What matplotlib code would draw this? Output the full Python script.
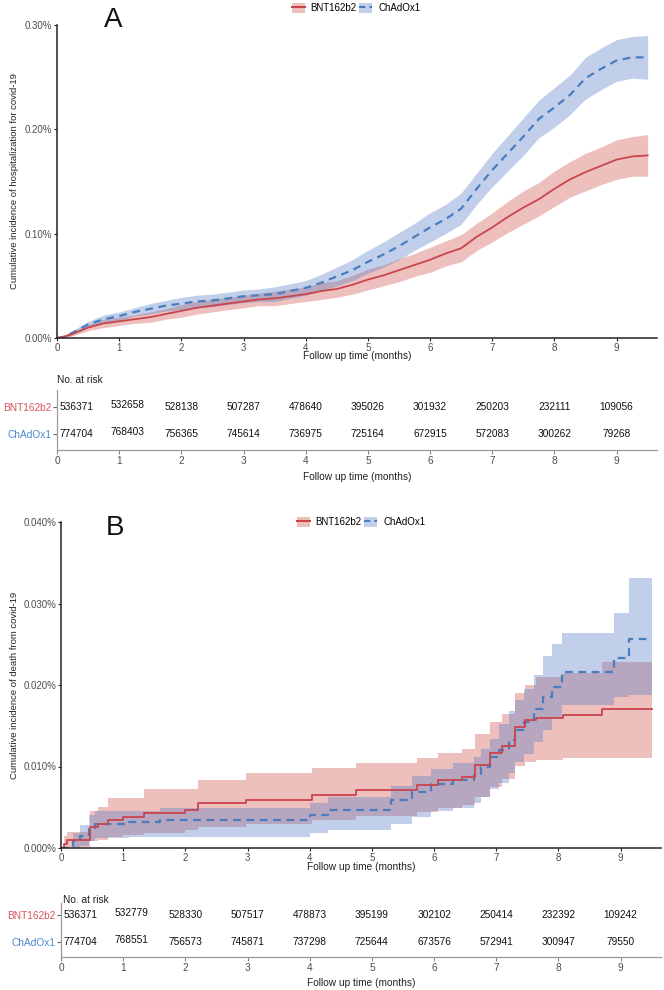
import matplotlib
matplotlib.use("Agg")
import matplotlib.pyplot as plt
from matplotlib.patches import Patch
from matplotlib.lines import Line2D
from matplotlib.ticker import FuncFormatter

plt.rcParams['font.family'] = ['Liberation Sans', 'DejaVu Sans']

# ---------------- DATA ----------------
groups = ["BNT162b2", "ChAdOx1"]
months_ticks = [0, 1, 2, 3, 4, 5, 6, 7, 8, 9]

# Panel A: cumulative incidence of hospitalisation (%)
tA = [0, 0.1, 0.25, 0.5, 0.75, 1.0, 1.25, 1.5, 1.75, 2.0, 2.25, 2.5, 2.75, 3.0, 3.25, 3.5, 3.75,
      4.0, 4.25, 4.5, 4.75, 5.0, 5.25, 5.5, 5.75, 6.0, 6.25, 6.5, 6.75, 7.0, 7.25, 7.5, 7.75,
      8.0, 8.25, 8.5, 8.75, 9.0, 9.25, 9.5]
bntA = [0, .001, .004, .010, .014, .016, .018, .020, .023, .026, .029, .031, .033, .035, .037, .038, .040,
        .042, .045, .047, .051, .056, .060, .065, .070, .075, .081, .086, .097, .106, .116, .125, .133,
        .143, .152, .159, .165, .171, .174, .175]
bntA_lo = [0, .000, .002, .007, .010, .012, .014, .015, .018, .020, .023, .025, .027, .029, .031, .031, .033,
           .035, .037, .039, .042, .046, .050, .054, .059, .063, .069, .073, .084, .092, .101, .109, .117,
           .126, .135, .141, .147, .152, .155, .155]
bntA_hi = [0, .002, .006, .013, .018, .020, .022, .025, .028, .032, .035, .037, .039, .041, .043, .045, .047,
           .049, .053, .055, .060, .066, .070, .076, .081, .087, .093, .099, .110, .120, .131, .141, .149,
           .160, .169, .177, .183, .190, .193, .195]
chaA = [0, .001, .005, .013, .018, .021, .025, .028, .031, .033, .035, .036, .038, .040, .041, .042, .045,
        .048, .053, .059, .065, .073, .080, .088, .097, .106, .114, .124, .143, .161, .177, .193, .210,
        .221, .233, .249, .258, .266, .269, .269]
chaA_lo = [0, .000, .003, .010, .014, .017, .021, .023, .026, .027, .029, .030, .032, .034, .035, .035, .038,
           .041, .045, .050, .055, .062, .068, .075, .084, .092, .100, .109, .128, .145, .160, .175, .192,
           .202, .214, .229, .238, .246, .249, .248]
chaA_hi = [0, .002, .007, .016, .022, .025, .029, .033, .036, .039, .041, .042, .044, .046, .047, .049, .052,
           .055, .061, .068, .075, .084, .092, .101, .110, .120, .128, .139, .158, .177, .194, .211, .228,
           .240, .252, .269, .278, .286, .289, .290]

# Panel B: cumulative incidence of death (%), step functions
tB_bnt = [0, 0.05, 0.1, 0.47, 0.6, 0.75, 1.0, 1.33, 2.0, 2.2, 2.97, 4.04, 4.75, 5.72, 6.07, 6.45,
          6.66, 6.9, 7.1, 7.3, 7.47, 7.64, 8.08, 8.7, 9.5]
bntB = [0, .0005, .0010, .0026, .0030, .0034, .0038, .0043, .0047, .0055, .0059, .0065, .0071, .0077,
        .0083, .0087, .0102, .0116, .0125, .0148, .0157, .0160, .0163, .0170, .0170]
bntB_hi = [0, .0015, .0020, .0045, .0050, .0061, .0061, .0073, .0073, .0083, .0092, .0098, .0104, .0110,
           .0116, .0122, .0140, .0155, .0165, .0190, .0200, .0210, .0215, .0228, .0228]
bntB_lo = [0, 0, .0001, .0008, .0010, .0013, .0016, .0019, .0022, .0026, .0029, .0034, .0039, .0044,
           .0049, .0053, .0063, .0075, .0085, .0100, .0105, .0108, .0110, .0110, .0110]
tB_cha = [0, 0.2, 0.3, 0.45, 0.55, 1.1, 1.6, 4.0, 4.3, 5.3, 5.65, 5.95, 6.3, 6.65, 6.75, 6.9, 7.05,
          7.2, 7.3, 7.45, 7.6, 7.75, 7.9, 8.05, 8.9, 9.13, 9.5]
chaB = [0, .0008, .0015, .0025, .0030, .0032, .0034, .0040, .0047, .0059, .0069, .0078, .0083, .0090,
        .0100, .0112, .0120, .0133, .0145, .0155, .0170, .0185, .0198, .0216, .0233, .0256, .0256]
chaB_hi = [0, .0018, .0028, .0040, .0045, .0046, .0049, .0055, .0063, .0076, .0088, .0097, .0104, .0112,
           .0122, .0134, .0152, .0168, .0182, .0195, .0212, .0235, .0250, .0264, .0288, .0331, .0331]
chaB_lo = [0, 0, .0002, .0008, .0012, .0013, .0014, .0018, .0022, .0030, .0038, .0045, .0049, .0055,
           .0062, .0072, .0080, .0092, .0105, .0115, .0130, .0145, .0160, .0175, .0185, .0188, .0188]

# Numbers at risk
riskA_bnt = [536371, 532658, 528138, 507287, 478640, 395026, 301932, 250203, 232111, 109056]
riskA_cha = [774704, 768403, 756365, 745614, 736975, 725164, 672915, 572083, 300262, 79268]
riskB_bnt = [536371, 532779, 528330, 507517, 478873, 395199, 302102, 250414, 232392, 109242]
riskB_cha = [774704, 768551, 756573, 745871, 737298, 725644, 673576, 572941, 300947, 79550]

yticksA = [0.0, 0.1, 0.2, 0.3]
yticksB = [0.0, 0.01, 0.02, 0.03, 0.04]

# ---------------- STYLE ----------------
W, H = 664, 990
RED = '#c9454b'
BLUE = '#4a7dbf'
RED_F = '#d45a52'
BLUE_F = '#4f78c4'
GRAY = '#4d4d4d'

fig = plt.figure(figsize=(W / 100, H / 100), dpi=100)


def px_axes(left, top, right, bottom):
    return fig.add_axes([left / W, 1 - bottom / H, (right - left) / W, (bottom - top) / H])


def style_main(ax, yticks, fmt):
    ax.set_xlim(0, 9.65)
    ax.set_ylim(0, yticks[-1])
    ax.set_xticks(months_ticks)
    ax.set_yticks(yticks)
    ax.yaxis.set_major_formatter(FuncFormatter(lambda v, p: fmt % v + '%'))
    for s in ['top', 'right']:
        ax.spines[s].set_visible(False)
    for s in ['left', 'bottom']:
        ax.spines[s].set_color('#222222')
        ax.spines[s].set_linewidth(1.1)
    ax.tick_params(axis='both', length=2.5, width=0.8, pad=1, labelsize=7, labelcolor=GRAY, color='#222222')


def legend(x, y):
    h1 = (Patch(facecolor=RED_F, alpha=0.38, edgecolor='none'), Line2D([], [], color=RED, lw=1.5))
    h2 = (Patch(facecolor=BLUE_F, alpha=0.35, edgecolor='none'), Line2D([], [], color=BLUE, lw=1.5, dashes=(3, 2)))
    fig.legend([h1, h2], groups, loc='center', bbox_to_anchor=(x / W, 1 - y / H), ncol=2, frameon=False,
               fontsize=7, handlelength=1.35, handleheight=1.3, handletextpad=0.6, columnspacing=0.25,
               borderpad=0, borderaxespad=0)


def risk_table(left, top, right, bottom, ybnt, ycha, bnt, cha, lab_y, title_x, title_y):
    ax = px_axes(left, top, right, bottom)
    ax.set_xlim(0, 9.65)
    ax.set_ylim(0, bottom - top)
    for s in ['top', 'right']:
        ax.spines[s].set_visible(False)
    for s in ['left', 'bottom']:
        ax.spines[s].set_color('#9a9a9a')
        ax.spines[s].set_linewidth(0.9)
    ax.set_xticks(months_ticks)
    ax.set_yticks([ybnt, ycha])
    ax.set_yticklabels(groups, fontsize=7.3)
    ax.get_yticklabels()[0].set_color('#d9545a')
    ax.get_yticklabels()[1].set_color('#4f86cc')
    ax.tick_params(axis='y', length=3, width=0.8, color='#666666', pad=1)
    ax.tick_params(axis='x', length=3, width=0.8, color='#888888', pad=1.5, labelsize=7.3, labelcolor=GRAY)
    for i, (a, b) in enumerate(zip(bnt, cha)):
        if i == 0:
            xs, ha, dy = 0.04, 'left', 0
        elif i == 1:
            xs, ha, dy = 1.13, 'center', 2
        else:
            xs, ha, dy = i, 'center', 0
        ax.text(xs, ybnt + dy, str(a), ha=ha, va='center', fontsize=7.3, color='#111111')
        ax.text(xs, ycha + dy, str(b), ha=ha, va='center', fontsize=7.3, color='#111111')
    fig.text((left + right) / 2 / W, 1 - lab_y / H, 'Follow up time (months)', ha='center', va='center',
             fontsize=7.3, color='#222222')
    fig.text(title_x / W, 1 - title_y / H, 'No. at risk', ha='left', va='center', fontsize=7.3, color='#222222')
    return ax


# ---------------- PANEL A ----------------
axA = px_axes(57, 25, 657, 338)
axA.fill_between(tA, bntA_lo, bntA_hi, color=RED_F, alpha=0.38, lw=0)
axA.fill_between(tA, chaA_lo, chaA_hi, color=BLUE_F, alpha=0.35, lw=0)
axA.plot(tA, chaA, color=BLUE, lw=1.6, dashes=(3.5, 2.5))
axA.plot(tA, bntA, color=RED, lw=1.3)
style_main(axA, yticksA, '%.2f')
fig.text(357 / W, 1 - 356 / H, 'Follow up time (months)', ha='center', va='center', fontsize=7.3, color='#222222')
fig.text(15 / W, 1 - 181 / H, 'Cumulative incidence of hospitalization for covid-19', rotation=90,
         ha='center', va='center', fontsize=6.8, color='#222222')
fig.text(104 / W, 1 - 20 / H, 'A', fontsize=20, ha='left', va='center', color='#111111')
legend(356, 8)

risk_table(57, 390, 657, 450, 43, 16, riskA_bnt, riskA_cha, 477, 57, 380)

# ---------------- PANEL B ----------------
axB = px_axes(61, 522, 661, 848)
axB.fill_between(tB_bnt, bntB_lo, bntB_hi, step='post', color=RED_F, alpha=0.38, lw=0)
axB.fill_between(tB_cha, chaB_lo, chaB_hi, step='post', color=BLUE_F, alpha=0.35, lw=0)
axB.step(tB_cha, chaB, where='post', color=BLUE, lw=1.6, dashes=(3.5, 2.5))
axB.step(tB_bnt, bntB, where='post', color=RED, lw=1.3)
style_main(axB, yticksB, '%.3f')
fig.text(361 / W, 1 - 867 / H, 'Follow up time (months)', ha='center', va='center', fontsize=7.3, color='#222222')
fig.text(15 / W, 1 - 685 / H, 'Cumulative incidence of death from covid-19', rotation=90,
         ha='center', va='center', fontsize=6.8, color='#222222')
fig.text(106 / W, 1 - 528 / H, 'B', fontsize=20, ha='left', va='center', color='#111111')
legend(361, 522)

risk_table(61, 903, 661, 957, 42, 15, riskB_bnt, riskB_cha, 983, 63, 900)

fig.savefig('out.png', dpi=100)
